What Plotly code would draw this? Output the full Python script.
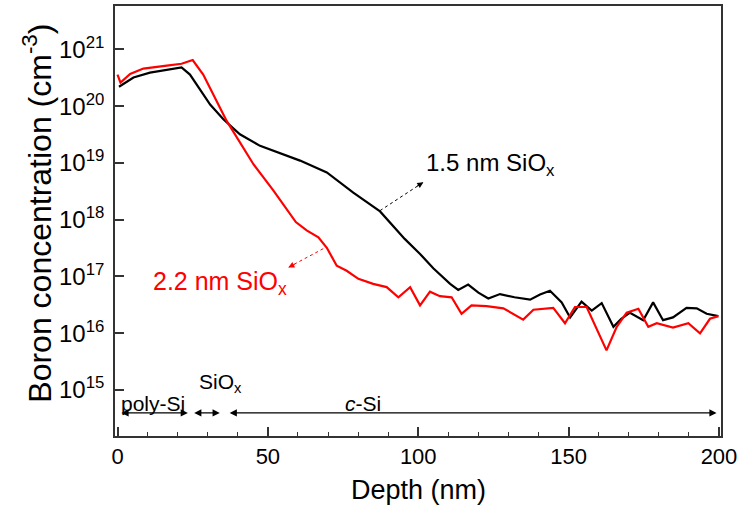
import plotly.graph_objects as go

# ---- data ----
depth_15 = [0.5, 5.3, 10.8, 16.4, 21.3, 24.1, 27.4, 30.8, 35.2, 40.7, 47.4, 54.0, 60.7, 69.6,
            78.4, 87.3, 91.0, 95.5, 100.6, 105.0, 110.6, 113.3, 116.6, 120.0, 123.3, 127.2,
            132.0, 137.2, 140.5, 143.8, 147.7, 150.5, 154.3, 157.7, 161.0, 164.9, 167.5,
            170.4, 174.8, 178.1, 181.4, 184.7, 189.2, 192.6, 195.9, 199.8]
conc_15 = [2.2e20, 3.2e20, 3.9e20, 4.3e20, 4.8e20, 3.6e20, 2.0e20, 1.07e20, 5.9e19, 3.2e19,
           2.0e19, 1.5e19, 1.1e19, 6.8e18, 3.0e18, 1.4e18, 8.5e17, 4.6e17, 2.5e17, 1.4e17,
           7.4e16, 5.8e16, 7.2e16, 5.2e16, 4.1e16, 4.9e16, 4.3e16, 3.9e16, 4.8e16, 5.6e16,
           3.5e16, 1.9e16, 3.6e16, 2.5e16, 3.4e16, 1.3e16, 1.8e16, 2.3e16, 1.7e16, 3.5e16,
           1.7e16, 1.9e16, 2.8e16, 2.75e16, 2.2e16, 2.0e16]

depth_22 = [0.0, 1.0, 4.2, 8.6, 16.4, 21.3, 25.0, 28.5, 36.3, 40.7, 45.2, 51.8, 59.3, 62.9,
            66.8, 69.6, 72.9, 76.2, 80.1, 85.0, 89.5, 93.4, 97.3, 100.6, 103.9, 107.2, 111.1,
            114.4, 117.7, 122.7, 128.3, 134.9, 138.3, 144.9, 148.8, 152.1, 156.0, 162.6,
            166.0, 169.3, 173.2, 176.5, 179.3, 184.7, 189.8, 193.7, 197.0, 199.8]
conc_22 = [3.6e20, 2.6e20, 3.7e20, 4.6e20, 5.2e20, 5.6e20, 6.5e20, 3.6e20, 5.5e19, 2.3e19,
           9.5e18, 3.3e18, 9.1e17, 6.5e17, 4.9e17, 3.2e17, 1.55e17, 1.26e17, 9.1e16, 7.4e16,
           6.5e16, 4.3e16, 6.5e16, 3.1e16, 5.4e16, 4.5e16, 4.3e16, 2.2e16, 3.1e16, 3.0e16,
           2.75e16, 1.74e16, 2.6e16, 2.8e16, 1.5e16, 2.9e16, 2.9e16, 5.0e15, 1.3e16, 2.3e16,
           2.7e16, 1.3e16, 1.5e16, 1.26e16, 1.5e16, 1.0e16, 1.8e16, 2.0e16]

x_ticks = [0, 50, 100, 150, 200]
y_tick_vals = [1e15, 1e16, 1e17, 1e18, 1e19, 1e20, 1e21]
y_tick_text = ["10<sup>15</sup>", "10<sup>16</sup>", "10<sup>17</sup>", "10<sup>18</sup>",
               "10<sup>19</sup>", "10<sup>20</sup>", "10<sup>21</sup>"]

FONT = "Arial, Liberation Sans, sans-serif"

fig = go.Figure()
fig.add_trace(go.Scatter(x=depth_15, y=conc_15, mode="lines",
                         line=dict(color="black", width=2.2), showlegend=False))
fig.add_trace(go.Scatter(x=depth_22, y=conc_22, mode="lines",
                         line=dict(color="#ff0000", width=2.2), showlegend=False))

# dotted pointer lines (tail on curve -> head near label)
fig.add_trace(go.Scatter(x=[87.3, 101.7], y=[10**18.16, 10**18.66], mode="lines",
                         line=dict(color="black", width=1, dash="dot"), showlegend=False))
fig.add_trace(go.Scatter(x=[68.4, 56.8], y=[10**17.49, 10**17.16], mode="lines",
                         line=dict(color="#ff0000", width=1, dash="dot"), showlegend=False))

annotations = [
    dict(x=101.7, y=18.66, xref="x", yref="y", ax=-8, ay=5, text="", showarrow=True,
         arrowhead=2, arrowsize=1.2, arrowwidth=1, arrowcolor="black", standoff=0),
    dict(x=56.8, y=17.16, xref="x", yref="y", ax=8, ay=-4, text="", showarrow=True,
         arrowhead=2, arrowsize=1.2, arrowwidth=1, arrowcolor="#ff0000", standoff=0),
    dict(x=102.0, y=18.98, xref="x", yref="y", xanchor="left", yanchor="middle",
         text="1.5 nm SiO<sub>x</sub>", showarrow=False,
         font=dict(family=FONT, size=24, color="black")),
    dict(x=11.3, y=16.88, xref="x", yref="y", xanchor="left", yanchor="middle",
         text="2.2 nm SiO<sub>x</sub>", showarrow=False,
         font=dict(family=FONT, size=25, color="#ff0000")),
    # region labels
    dict(x=0.6, y=14.76, xref="x", yref="y", xanchor="left", yanchor="middle",
         text="poly-Si", showarrow=False, font=dict(family=FONT, size=21, color="black")),
    dict(x=26.3, y=15.12, xref="x", yref="y", xanchor="left", yanchor="middle",
         text="SiO<sub>x</sub>", showarrow=False, font=dict(family=FONT, size=21, color="black")),
    dict(x=75.0, y=14.76, xref="x", yref="y", xanchor="left", yanchor="middle",
         text="<i>c</i>-Si", showarrow=False, font=dict(family=FONT, size=21, color="black")),
    # region double arrows
    dict(x=23.4, y=14.596, ax=0.8, ay=14.596, xref="x", yref="y", axref="x", ayref="y",
         text="", showarrow=True, arrowside="end+start", arrowhead=2, arrowsize=1.2,
         arrowwidth=1.2, arrowcolor="black", standoff=0, startstandoff=0),
    dict(x=34.0, y=14.596, ax=25.0, ay=14.596, xref="x", yref="y", axref="x", ayref="y",
         text="", showarrow=True, arrowside="end+start", arrowhead=2, arrowsize=1.2,
         arrowwidth=1.2, arrowcolor="black", standoff=0, startstandoff=0),
    dict(x=199.2, y=14.596, ax=36.8, ay=14.596, xref="x", yref="y", axref="x", ayref="y",
         text="", showarrow=True, arrowside="end+start", arrowhead=2, arrowsize=1.2,
         arrowwidth=1.2, arrowcolor="black", standoff=0, startstandoff=0),
    # axis titles
    dict(x=-0.128, y=0.518, xref="paper", yref="paper", xanchor="center", yanchor="middle",
         textangle=-90, text="Boron concentration (cm<sup>-3</sup>)", showarrow=False,
         font=dict(family=FONT, size=32, color="black")),
    dict(x=0.5, y=-0.125, xref="paper", yref="paper", xanchor="center", yanchor="middle",
         text="Depth (nm)", showarrow=False, font=dict(family=FONT, size=27, color="black")),
]

fig.update_layout(
    width=741, height=505,
    margin=dict(l=115, r=20, t=4, b=69),
    paper_bgcolor="white", plot_bgcolor="white",
    font=dict(family=FONT, color="black"),
    annotations=annotations,
    showlegend=False,
)
fig.update_xaxes(
    range=[-0.83, 200.67], tickvals=x_ticks, ticks="inside", ticklen=9, tickwidth=1.5,
    tickcolor="#333", showline=True, linecolor="#333", linewidth=1.5, mirror=True,
    showgrid=False, zeroline=False, tickfont=dict(family=FONT, size=22, color="black"),
    minor=dict(dtick=10, ticks="inside", ticklen=4, tickwidth=1, tickcolor="#333", showgrid=False),
)
fig.update_yaxes(
    type="log", range=[14.19, 21.765], tickvals=y_tick_vals, ticktext=y_tick_text,
    ticks="inside", ticklen=9, tickwidth=1.5, tickcolor="#333", showline=True,
    linecolor="#333", linewidth=1.8, mirror=True, showgrid=False, zeroline=False,
    tickfont=dict(family=FONT, size=24, color="black"), ticklabelstandoff=4,
)

fig.write_html("out.html")
